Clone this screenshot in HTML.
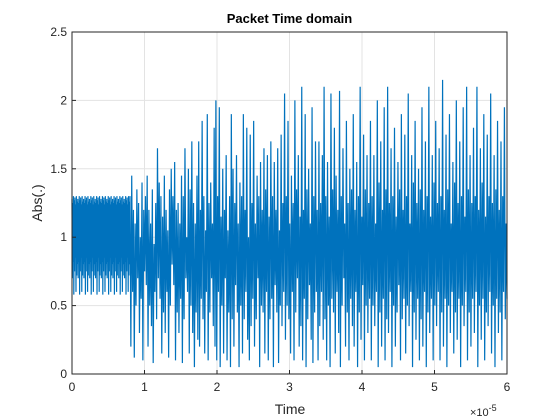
<!DOCTYPE html>
<html><head><meta charset="utf-8"><style>
body{margin:0;background:#fff;}
svg{display:block;font-family:"Liberation Sans",Arial,sans-serif;}
</style></head><body>
<svg id="chart" width="560" height="420" viewBox="0 0 560 420">
<rect x="0" y="0" width="560" height="420" fill="#fff"/>
<g id="grid"></g>
<g id="series"></g>
<rect x="72" y="32" width="435" height="342" fill="none" stroke="#262626" stroke-width="1"/>
<g id="ticks"></g>
<text x="289.5" y="23" text-anchor="middle" font-size="13" font-weight="bold" fill="#000">Packet Time domain</text>
<text x="290" y="414" text-anchor="middle" font-size="14" fill="#262626">Time</text>
<text x="0" y="0" transform="translate(42,203) rotate(-90)" text-anchor="middle" font-size="14" fill="#262626">Abs(.)</text>
<text x="470" y="416" font-size="11" fill="#262626">×10<tspan dy="-5" font-size="9">-5</tspan></text>
</svg>
<script>
const xTicks=[0,1,2,3,4,5,6];
const xTickLabels=["0","1","2","3","4","5","6"];
const yTicks=[0,0.5,1,1.5,2,2.5];
const yTickLabels=["0","0.5","1","1.5","2","2.5"];
const xDomain=[0,6];
const yDomain=[0,2.5];
const preambleEnd=0.8;
const preamblePattern=[1.28,0.7,1.25,0.82,1.3,0.58,1.27,0.75,1.29,0.85,1.24,0.6,1.3,0.72,1.26,0.8];
const preambleRepeats=10;
const payloadValues=[
1.3,0.2,1.45,0.6,1.2,0.12,1.1,0.5,1.35,0.7,1.25,0.3,1.0,0.55,1.4,0.1,1.2,0.75,1.3,0.65,
1.45,0.2,1.2,0.5,1.1,0.35,1.35,0.08,0.95,0.6,1.25,0.4,1.65,0.7,1.4,0.55,1.3,0.15,1.15,0.45,
1.45,0.3,1.2,0.6,1.05,0.12,1.35,0.5,1.5,0.8,1.3,0.65,1.55,0.1,1.2,0.45,1.25,0.3,1.1,0.55,
1.45,0.08,1.3,0.4,1.65,0.7,1.0,0.6,1.5,0.15,1.35,0.5,1.7,0.3,1.25,0.05,1.1,0.45,1.45,0.25,
1.7,0.2,1.2,0.55,1.85,0.4,1.3,0.15,1.05,0.6,1.9,0.1,1.25,0.45,1.4,0.7,1.1,0.35,1.8,0.2,
2.0,0.1,1.3,0.6,1.95,0.05,1.15,0.5,1.5,0.15,1.2,0.7,1.6,0.1,1.05,0.45,1.3,0.05,1.9,0.4,
1.5,0.2,1.25,0.65,1.6,0.45,1.1,0.05,1.4,0.5,1.3,0.15,1.9,0.4,1.2,0.6,1.8,0.25,1.0,0.1,
1.75,0.35,1.25,0.55,1.85,0.2,1.1,0.4,1.45,0.7,1.3,0.05,1.55,0.5,1.2,0.45,1.65,0.15,1.35,0.6,
1.6,0.1,1.15,0.4,1.7,0.55,1.3,0.05,1.55,0.65,1.2,0.45,1.65,0.08,1.05,0.5,1.75,0.35,1.25,0.6,
2.05,0.25,1.3,0.5,1.85,0.4,1.1,0.15,1.45,0.6,1.25,0.1,2.0,0.45,1.35,0.7,1.6,0.2,1.15,0.35,
2.1,0.1,1.2,0.55,1.9,0.05,1.35,0.4,1.5,0.65,1.1,0.25,1.95,0.08,1.3,0.45,1.7,0.6,1.2,0.1,
1.7,0.35,1.25,0.6,1.6,0.25,2.1,0.4,1.3,0.1,1.55,0.5,1.15,0.05,2.05,0.55,1.35,0.45,1.8,0.15,
1.45,0.6,1.2,0.3,2.07,0.05,1.3,0.5,1.65,0.7,1.1,0.2,1.85,0.45,1.25,0.1,1.5,0.55,1.35,0.35,
1.9,0.2,1.2,0.6,1.55,0.05,1.3,0.45,2.1,0.25,1.15,0.65,1.75,0.1,1.35,0.5,1.6,0.3,1.25,0.55,
1.85,0.1,1.3,0.5,1.6,0.35,1.1,0.6,2.0,0.05,1.4,0.45,1.7,0.2,1.2,0.55,1.95,0.1,1.35,0.4,
2.1,0.3,1.25,0.6,1.65,0.05,1.3,0.5,1.8,0.2,1.15,0.45,1.55,0.65,1.35,0.1,1.9,0.4,1.2,0.55,
1.75,0.15,1.3,0.5,2.05,0.35,1.1,0.6,1.6,0.05,1.4,0.45,1.85,0.25,1.25,0.55,1.5,0.1,1.35,0.4,
1.95,0.2,1.2,0.6,1.7,0.05,1.3,0.45,2.1,0.3,1.15,0.55,1.6,0.1,1.4,0.5,1.85,0.35,1.25,0.6,
1.65,0.1,1.3,0.45,2.15,0.2,1.2,0.55,1.75,0.05,1.35,0.5,1.9,0.3,1.1,0.6,1.55,0.15,1.4,0.45,
2.0,0.25,1.25,0.55,1.7,0.05,1.3,0.5,1.95,0.35,1.15,0.6,2.1,0.1,1.35,0.45,1.6,0.2,1.25,0.55,
1.8,0.3,1.3,0.6,2.1,0.05,1.2,0.5,1.65,0.25,1.4,0.55,1.9,0.1,1.15,0.45,1.75,0.35,1.3,0.6,
2.05,0.15,1.25,0.5,1.6,0.05,1.35,0.55,1.85,0.3,1.2,0.45,1.7,0.1,1.3,0.6,1.95,0.4,1.1,0.55
];
const NS='http://www.w3.org/2000/svg';
const plot={x0:72,x1:507,y0:374,y1:32};
function xs(v){return plot.x0+(v-xDomain[0])/(xDomain[1]-xDomain[0])*(plot.x1-plot.x0);}
function ys(v){return plot.y0-(v-yDomain[0])/(yDomain[1]-yDomain[0])*(plot.y0-plot.y1);}
const grid=document.getElementById('grid');
const ticks=document.getElementById('ticks');
xTicks.forEach((t,i)=>{
  const g=document.createElementNS(NS,'line');
  g.setAttribute('x1',xs(t));g.setAttribute('x2',xs(t));g.setAttribute('y1',plot.y1);g.setAttribute('y2',plot.y0);
  g.setAttribute('stroke','#e3e3e3');g.setAttribute('stroke-width','1');
  
  
  grid.appendChild(g);
  const tk=document.createElementNS(NS,'line');
  tk.setAttribute('x1',xs(t));tk.setAttribute('x2',xs(t));tk.setAttribute('y1',plot.y0);tk.setAttribute('y2',plot.y0-4);
  tk.setAttribute('stroke','#262626');
  
  
  ticks.appendChild(tk);
  const lb=document.createElementNS(NS,'text');
  lb.setAttribute('x',xs(t));lb.setAttribute('y',plot.y0+17);lb.setAttribute('text-anchor','middle');
  lb.setAttribute('font-size','12');lb.setAttribute('fill','#262626');
  lb.textContent=xTickLabels[i];
  
  
  ticks.appendChild(lb);
});
yTicks.forEach((t,i)=>{
  const g=document.createElementNS(NS,'line');
  g.setAttribute('x1',plot.x0);g.setAttribute('x2',plot.x1);g.setAttribute('y1',ys(t));g.setAttribute('y2',ys(t));
  g.setAttribute('stroke','#e3e3e3');g.setAttribute('stroke-width','1');
  
  
  grid.appendChild(g);
  const tk=document.createElementNS(NS,'line');
  tk.setAttribute('x1',plot.x0);tk.setAttribute('x2',plot.x0+4);tk.setAttribute('y1',ys(t));tk.setAttribute('y2',ys(t));
  tk.setAttribute('stroke','#262626');
  
  
  ticks.appendChild(tk);
  const lb=document.createElementNS(NS,'text');
  lb.setAttribute('x',plot.x0-5);lb.setAttribute('y',ys(t)+4);lb.setAttribute('text-anchor','end');
  lb.setAttribute('font-size','12');lb.setAttribute('fill','#262626');
  lb.textContent=yTickLabels[i];
  
  
  ticks.appendChild(lb);
});
const pts=[];
const preN=preamblePattern.length*preambleRepeats;
for(let i=0;i<preN;i++){
  const t=preambleEnd*i/preN;
  pts.push([xs(t),ys(preamblePattern[i%preamblePattern.length])]);
}
const payN=payloadValues.length;
for(let i=0;i<payN;i++){
  const t=preambleEnd+(xDomain[1]-preambleEnd)*i/(payN-1);
  pts.push([xs(t),ys(payloadValues[i])]);
}
const line=document.createElementNS(NS,'polyline');
line.setAttribute('points',pts.map(p=>p[0].toFixed(2)+','+p[1].toFixed(2)).join(' '));
line.setAttribute('fill','none');line.setAttribute('stroke','#0072BD');line.setAttribute('stroke-width','1.2');
line.setAttribute('stroke-linejoin','miter');


document.getElementById('series').appendChild(line);
</script>
</body></html>
